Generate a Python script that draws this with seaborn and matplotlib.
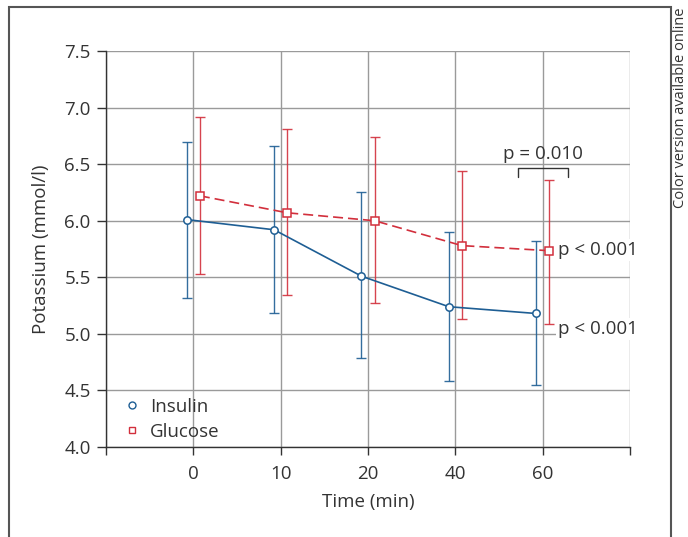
import numpy as np
import pandas as pd
import seaborn as sns
import matplotlib.pyplot as plt
from matplotlib.lines import Line2D
from matplotlib.patches import Rectangle

# ---- data ----
time_labels = ["0", "10", "20", "40", "60"]
insulin_mean = [6.01, 5.92, 5.51, 5.24, 5.18]
insulin_upper = [6.70, 6.66, 6.25, 5.90, 5.82]
insulin_lower = [5.32, 5.18, 4.79, 4.58, 4.545]
glucose_mean = [6.22, 6.07, 6.00, 5.78, 5.735]
glucose_upper = [6.92, 6.81, 6.74, 6.44, 6.36]
glucose_lower = [5.53, 5.34, 5.27, 5.13, 5.09]
y_ticks = [4.0, 4.5, 5.0, 5.5, 6.0, 6.5, 7.0, 7.5]

BLUE = "#1e5e94"
RED = "#d22f3c"
DARK = "#333333"
FS = 13.5

sns.set_theme(style="white")
plt.rcParams["font.family"] = ["Open Sans", "DejaVu Sans"]

fig = plt.figure(figsize=(6.88, 5.37), dpi=100)
ax = fig.add_axes([106 / 688, 1 - 447 / 537, 524 / 688, 396 / 537])

idx = np.arange(len(time_labels))
off = 0.075
df = pd.concat([
    pd.DataFrame({"x": idx - off, "y": insulin_mean, "lo": insulin_lower,
                  "hi": insulin_upper, "group": "Insulin"}),
    pd.DataFrame({"x": idx + off, "y": glucose_mean, "lo": glucose_lower,
                  "hi": glucose_upper, "group": "Glucose"}),
])
colors = {"Insulin": BLUE, "Glucose": RED}

# error bars
for g, sub in df.groupby("group"):
    ax.errorbar(sub["x"], sub["y"],
                yerr=[sub["y"] - sub["lo"], sub["hi"] - sub["y"]],
                fmt="none", ecolor=colors[g], elinewidth=1.0, capsize=3.3,
                capthick=1.0, zorder=3, alpha=0.9)

sns.lineplot(data=df, x="x", y="y", hue="group", style="group",
             palette=colors, dashes={"Insulin": "", "Glucose": (6, 3)},
             markers={"Insulin": "o", "Glucose": "s"}, markersize=5.3,
             markerfacecolor="white", markeredgewidth=1.1, linewidth=1.2,
             legend=False, ax=ax, zorder=4, sort=False)
for ln, g in zip(ax.lines[-2:], ["Insulin", "Glucose"]):
    ln.set_markeredgecolor(colors[g])

ax.set_xlim(-1, 5)
ax.set_ylim(4.0, 7.5)
ax.set_xticks(np.arange(-1, 6))
ax.set_xticklabels([""] + time_labels + [""])
ax.set_yticks(y_ticks)
ax.set_yticklabels([f"{v:.1f}" for v in y_ticks])
ax.grid(True, color="#9a9a9a", linewidth=1.0)
ax.set_axisbelow(True)
for s in ["top", "right"]:
    ax.spines[s].set_visible(False)
for s in ["left", "bottom"]:
    ax.spines[s].set_color(DARK)
    ax.spines[s].set_linewidth(1.0)
ax.tick_params(axis="x", length=6, width=1.0, color=DARK, labelsize=FS,
               labelcolor=DARK, pad=7, bottom=True)
ax.tick_params(axis="y", length=6.5, width=1.0, color=DARK, labelsize=FS,
               labelcolor=DARK, pad=4.5, left=True)
ax.set_xlabel("Time (min)", fontsize=FS, color=DARK, labelpad=7)
ax.set_ylabel("Potassium (mmol/l)", fontsize=FS, color=DARK, labelpad=10.5)

# annotations
bbox = dict(facecolor="white", edgecolor="none", pad=1.5)
ax.text(4.18, 5.74, "p < 0.001", fontsize=FS, color=DARK,
        ha="left", va="center", bbox=bbox, zorder=5)
ax.text(4.18, 5.04, "p < 0.001", fontsize=FS, color=DARK,
        ha="left", va="center", bbox=bbox, zorder=5)
ax.plot([3.72, 3.72, 4.29, 4.29], [6.385, 6.465, 6.465, 6.385], color=DARK,
        linewidth=1.0, zorder=5)
ax.text(4.0, 6.59, "p = 0.010", fontsize=FS, color=DARK, ha="center",
        va="center", zorder=5)

handles = [Line2D([], [], linestyle="none", marker="o", markersize=5,
                  markerfacecolor="white", markeredgecolor=BLUE, markeredgewidth=1),
           Line2D([], [], linestyle="none", marker="s", markersize=5,
                  markerfacecolor="white", markeredgecolor=RED, markeredgewidth=1)]
ax.legend(handles, ["Insulin", "Glucose"], loc="lower left",
          bbox_to_anchor=(0.017, -0.003), frameon=False, fontsize=FS,
          handlelength=1.0, handletextpad=0.46, labelspacing=0.38,
          labelcolor=DARK, borderaxespad=0.0, borderpad=0.4)

# outer frame
fig.patches.append(Rectangle((9 / 688, -0.02), 662 / 688, 1.02 - 7 / 537,
                             transform=fig.transFigure, fill=False,
                             edgecolor="#555555", linewidth=1.5))
fig.text(681 / 688, 1 - 8 / 537, "Color version available online",
         rotation=90, ha="center", va="top", fontsize=10.5, color=DARK)

fig.savefig("out.png", dpi=100)
